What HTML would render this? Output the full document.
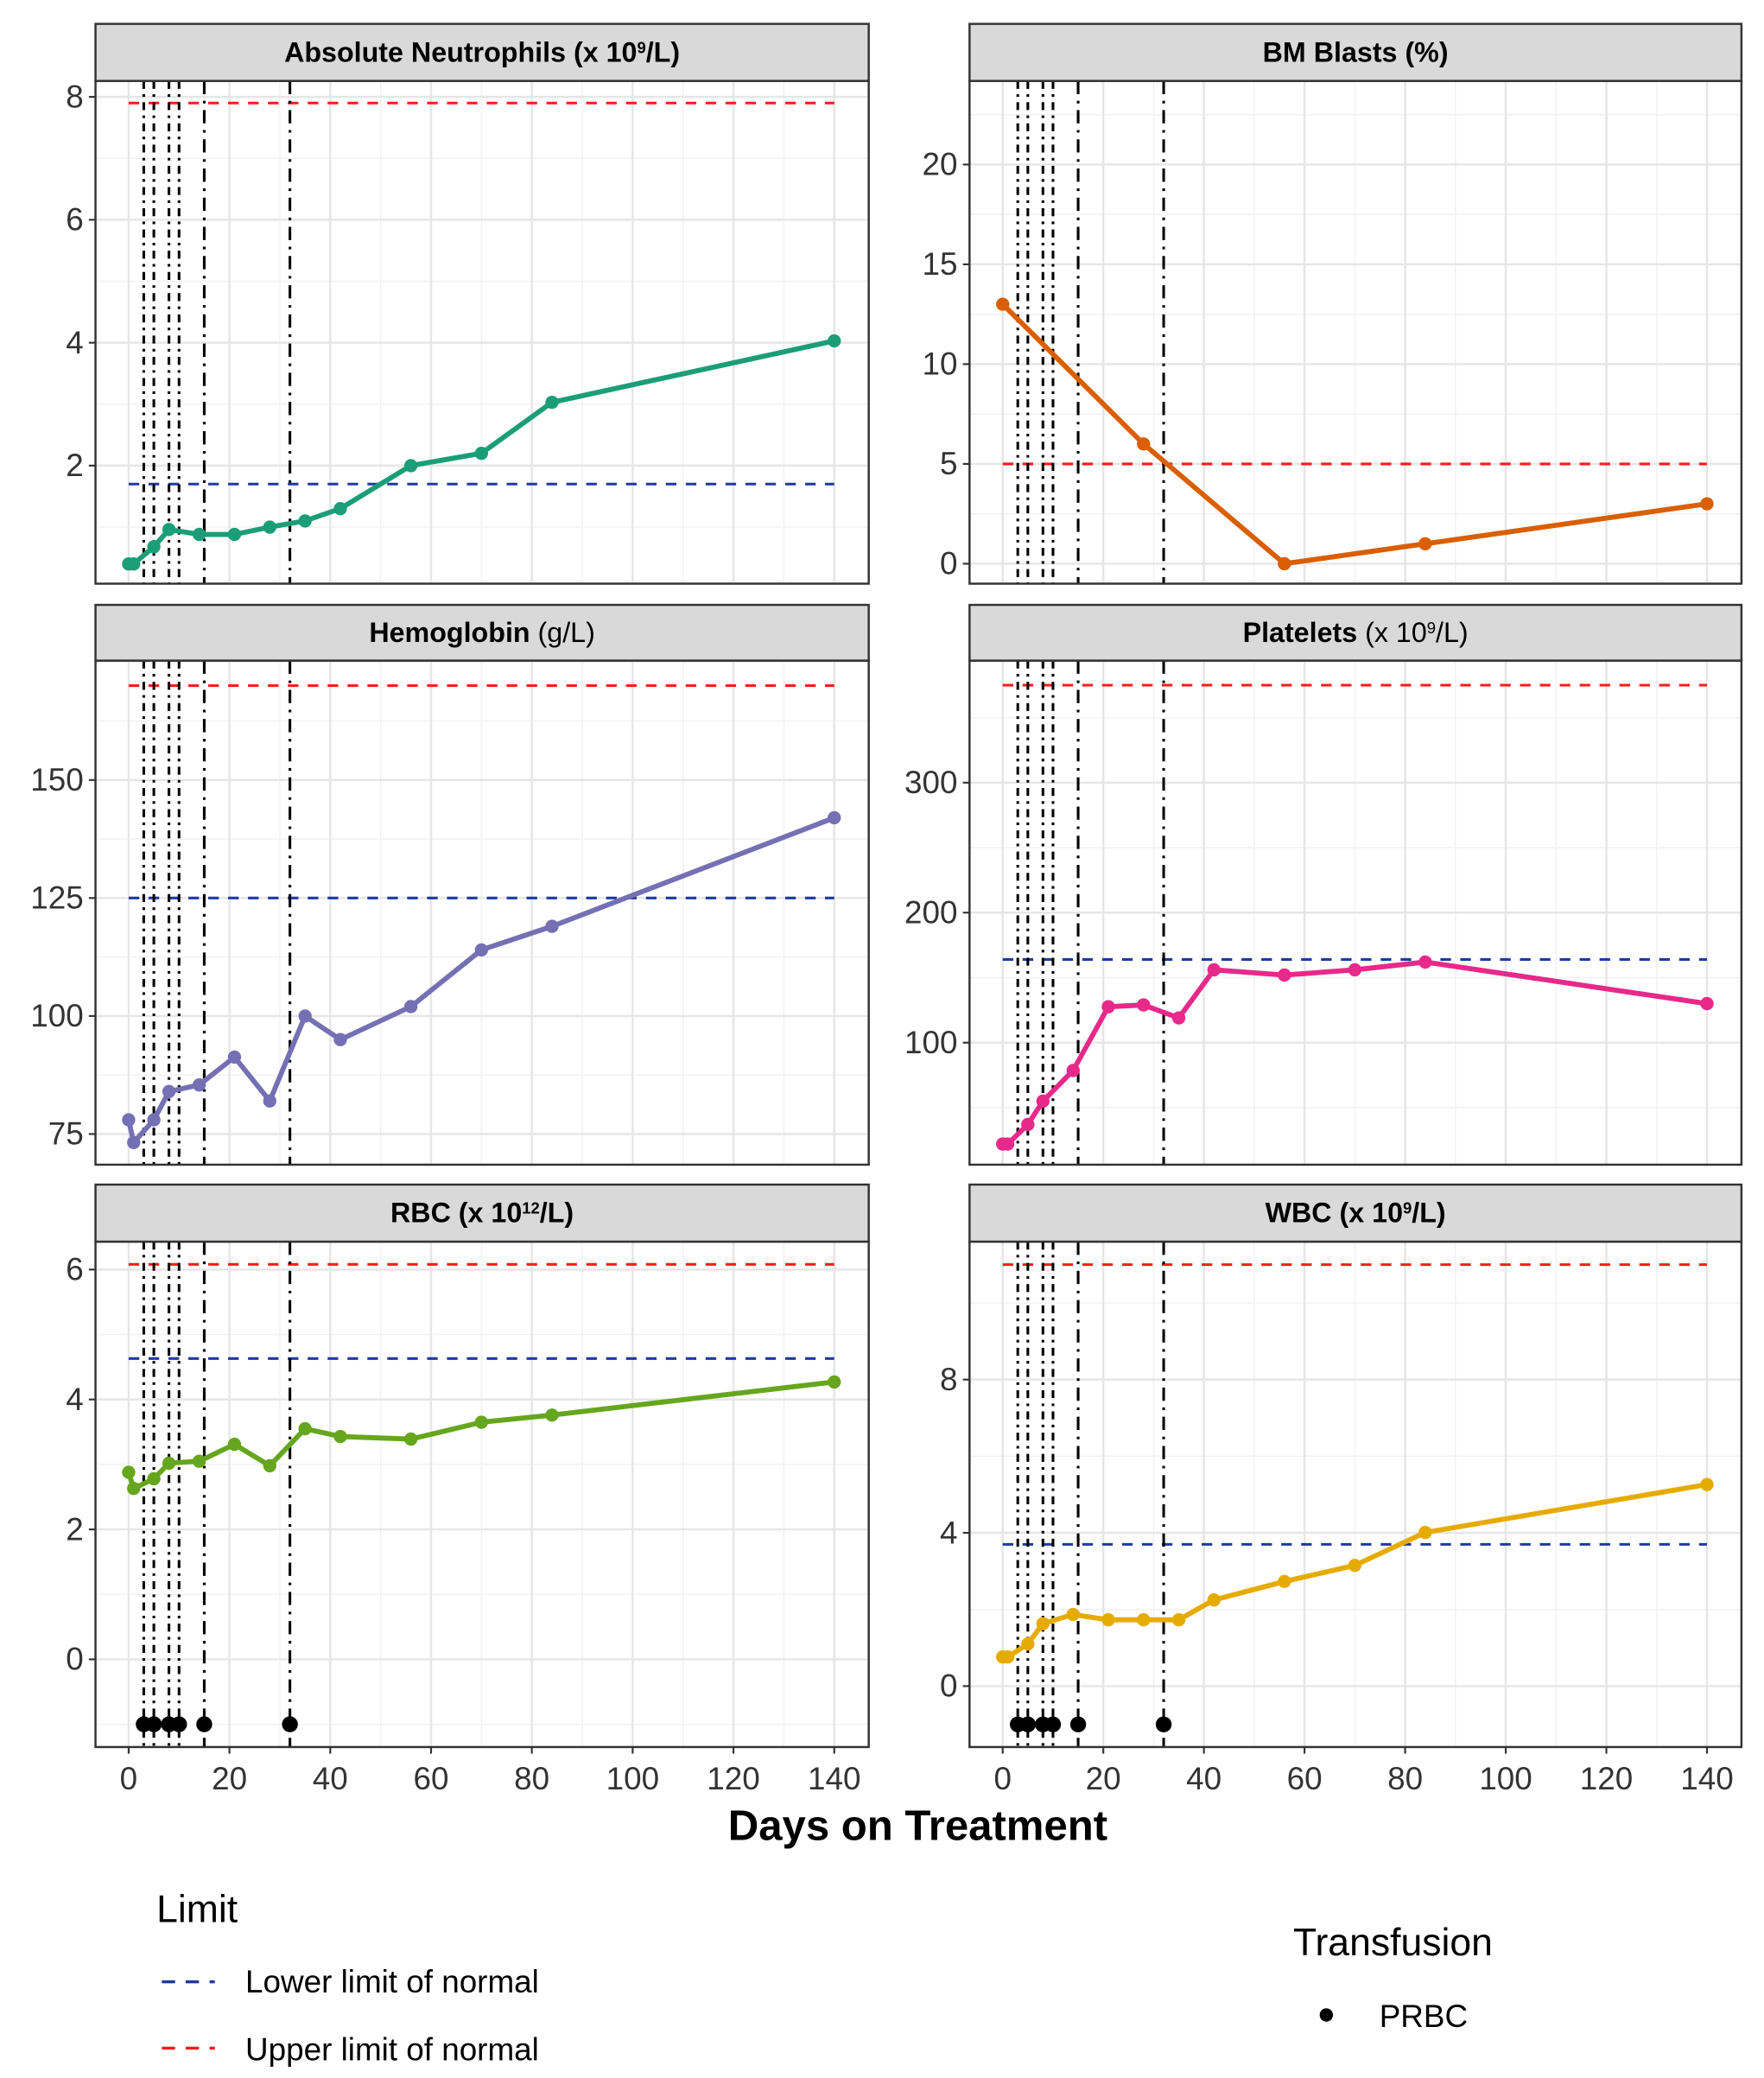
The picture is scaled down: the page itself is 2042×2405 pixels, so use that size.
<!DOCTYPE html>
<html><head><meta charset="utf-8">
<style>
html,body{margin:0;padding:0;background:#fff;}
svg{display:block;font-family:"Liberation Sans Narrow","Liberation Sans",Arial,sans-serif;}
</style></head>
<body>
<svg id="chart" width="2042" height="2405" viewBox="0 0 1330 1566.5" preserveAspectRatio="none" xmlns="http://www.w3.org/2000/svg">
<g id="root"></g>
<text x="692" y="1387" font-size="32" font-weight="bold" text-anchor="middle" font-family="Liberation Sans, sans-serif">Days on Treatment</text>
<g>
<text x="118" y="1449" font-size="29">Limit</text>
<line x1="122" y1="1494" x2="162" y2="1494" stroke="#1f3a9e" stroke-width="2.2" stroke-dasharray="10 8"/>
<text x="185" y="1502" font-size="24">Lower limit of normal</text>
<line x1="122" y1="1544" x2="162" y2="1544" stroke="#ff1a1a" stroke-width="2.2" stroke-dasharray="10 8"/>
<text x="185" y="1553" font-size="24">Upper limit of normal</text>
</g>
<g>
<text x="975" y="1474" font-size="29">Transfusion</text>
<circle cx="1000" cy="1519" r="5" fill="#000"/>
<text x="1040" y="1528" font-size="24">PRBC</text>
</g>
</svg>
<script>
const NS="http://www.w3.org/2000/svg";
const days=[0,1,5,8,14,21,28,35,42,56,70,84,140];
const neutroVals=[0.4,0.4,0.68,0.96,0.88,0.88,1.0,1.1,1.3,2.0,2.2,3.03,4.03];
const blastDays=[0,28,56,84,140];
const blastVals=[13,6,0,1,3];
const hgbVals=[78,73.2,78,84,85.4,91.3,82,100,95,102,114,119,142];
const pltVals=[22,22,37,55,78.6,127.6,129,119,156,152,156,162,130];
const rbcVals=[2.88,2.63,2.78,3.02,3.05,3.31,2.98,3.55,3.43,3.39,3.65,3.76,4.27];
const wbcVals=[0.76,0.76,1.1,1.63,1.87,1.73,1.73,1.73,2.25,2.73,3.15,4.01,5.26];
const eventDays=[3,5,8,10,15,32];
const transfusionDays=[3,5,8,10,15,32];
const xTicks=[0,20,40,60,80,100,120,140];
const neutroTicks=[2,4,6,8];
const blastTicks=[0,5,10,15,20];
const hgbTicks=[75,100,125,150];
const pltTicks=[100,200,300];
const rbcTicks=[0,2,4,6];
const wbcTicks=[0,4,8];
const upperLimits=[7.9,5,170,375,6.08,11.0];
const lowerLimits=[1.7,null,125,164,4.63,3.7];

const cols=[{l:72,r:655,x0:97,x140:629},{l:731,r:1313,x0:756,x140:1287}];
const rows=[{st:18,sb:61,b:440},{st:456,sb:498,b:878},{st:893,sb:936,b:1317}];
const panels=[
 {name:"neutrophils",title:'Absolute Neutrophils (x 10<tspan baseline-shift="super" font-size="12">9</tspan>/L)',c:0,r:0,dom:[0.079,8.26],ticks:neutroTicks,minorStep:1,xs:days,ys:neutroVals,color:"#1b9e77",tr:false},
 {name:"bm-blasts",title:'BM Blasts (%)',c:1,r:0,dom:[-1.0,24.19],ticks:blastTicks,minorStep:2.5,xs:blastDays,ys:blastVals,color:"#d95f02",tr:false},
 {name:"hemoglobin",title:'Hemoglobin <tspan font-weight="normal">(g/L)</tspan>',c:0,r:1,dom:[68.5,175.3],ticks:hgbTicks,minorStep:12.5,xs:days,ys:hgbVals,color:"#7570b3",tr:false},
 {name:"platelets",title:'Platelets <tspan font-weight="normal">(x 10<tspan baseline-shift="super" font-size="12">9</tspan>/L)</tspan>',c:1,r:1,dom:[6.1,393.9],ticks:pltTicks,minorStep:50,xs:days,ys:pltVals,color:"#e7298a",tr:false},
 {name:"rbc",title:'RBC (x 10<tspan baseline-shift="super" font-size="12">12</tspan>/L)',c:0,r:2,dom:[-1.35,6.43],ticks:rbcTicks,minorStep:1,xs:days,ys:rbcVals,color:"#66a61e",tr:true},
 {name:"wbc",title:'WBC  (x 10<tspan baseline-shift="super" font-size="12">9</tspan>/L)',c:1,r:2,dom:[-1.59,11.6],ticks:wbcTicks,minorStep:2,xs:days,ys:wbcVals,color:"#e6ab02",tr:true}
];
const root=document.getElementById('root');
function mk(tag,attrs,parent){const e=document.createElementNS(NS,tag);for(const k in attrs)e.setAttribute(k,attrs[k]);(parent||root).appendChild(e);return e;}

panels.forEach((p,i)=>{
 const C=cols[p.c],R=rows[p.r];
 const X=d=>C.x0+(C.x140-C.x0)*d/140;
 const Y=v=>R.b-(v-p.dom[0])/(p.dom[1]-p.dom[0])*(R.b-R.sb);
 const g=mk('g',{});
 
 
 for(let d=10;d<=150;d+=20){const x=X(d);if(x<C.r)mk('line',{x1:x,x2:x,y1:R.sb,y2:R.b,stroke:'#f2f2f2','stroke-width':1},g);}
 let start=Math.ceil(p.dom[0]/p.minorStep)*p.minorStep;
 for(let v=start;v<=p.dom[1];v+=p.minorStep){mk('line',{x1:C.l,x2:C.r,y1:Y(v),y2:Y(v),stroke:'#f2f2f2','stroke-width':1},g);}
 xTicks.forEach(d=>mk('line',{x1:X(d),x2:X(d),y1:R.sb,y2:R.b,stroke:'#e6e6e6','stroke-width':1.6},g));
 p.ticks.forEach(v=>mk('line',{x1:C.l,x2:C.r,y1:Y(v),y2:Y(v),stroke:'#e6e6e6','stroke-width':1.6},g));
 const up=mk('line',{x1:X(0),x2:X(140),y1:Y(upperLimits[i]),y2:Y(upperLimits[i]),stroke:'#ff1a1a','stroke-width':2,'stroke-dasharray':'8 7'},g);
 
 
 if(lowerLimits[i]!==null){
  const lo=mk('line',{x1:X(0),x2:X(140),y1:Y(lowerLimits[i]),y2:Y(lowerLimits[i]),stroke:'#1f3a9e','stroke-width':2,'stroke-dasharray':'8 7'},g);
  
  
 }
 eventDays.forEach(d=>{const l=mk('line',{x1:X(d),x2:X(d),y1:R.sb,y2:R.b,stroke:'#000','stroke-width':2,'stroke-dasharray':d>=15?'10 5 2 5':'6 4 2 4'},g);
  
  });
 const pts=p.xs.map((d,k)=>X(d)+','+Y(p.ys[k])).join(' ');
 const pl=mk('polyline',{points:pts,fill:'none',stroke:p.color,'stroke-width':3.8,'stroke-linejoin':'round'},g);
 
 
 p.xs.forEach((d,k)=>{const c=mk('circle',{cx:X(d),cy:Y(p.ys[k]),r:5,fill:p.color},g);
  
  });
 if(p.tr){transfusionDays.forEach(d=>{const c=mk('circle',{cx:X(d),cy:Y(-1),r:6,fill:'#000'},g);
  
  });}
 mk('rect',{x:C.l,y:R.sb,width:C.r-C.l,height:R.b-R.sb,fill:'none',stroke:'#333','stroke-width':1.6},g);
 const s=mk('rect',{x:C.l,y:R.st,width:C.r-C.l,height:R.sb-R.st,fill:'#d9d9d9',stroke:'#333','stroke-width':1.6},g);
 
 
 const t=mk('text',{x:(C.l+C.r)/2,y:(R.st+R.sb)/2+7,'text-anchor':'middle','font-size':21,'font-weight':'bold'},g);
 t.innerHTML=p.title;
 
 
 p.ticks.forEach(v=>{mk('line',{x1:C.l-5,x2:C.l,y1:Y(v),y2:Y(v),stroke:'#333','stroke-width':1.4},g);
  const tt=mk('text',{x:C.l-9,y:Y(v)+8,'text-anchor':'end','font-size':24,fill:'#333'},g);tt.textContent=v;
  
  });
 if(p.r===2){xTicks.forEach(d=>{mk('line',{x1:X(d),x2:X(d),y1:R.b,y2:R.b+5,stroke:'#333','stroke-width':1.4},g);
  const tt=mk('text',{x:X(d),y:R.b+32,'text-anchor':'middle','font-size':24,fill:'#333'},g);tt.textContent=d;
  
  });}
});
</script>
</body></html>
